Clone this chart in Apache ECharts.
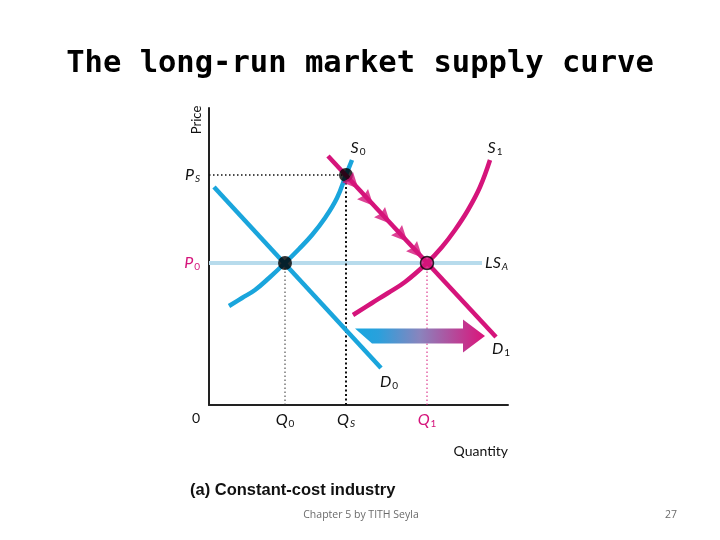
<!DOCTYPE html>
<html><head><meta charset="utf-8">
<script src="https://cdn.jsdelivr.net/npm/echarts@6/dist/echarts.min.js"></script>
<style>html,body{margin:0;padding:0;background:#fff}#c{width:720px;height:540px}</style>
</head><body><div id="c"></div>
<script>
// ---- data (quantity / price units) ----
const xTickValues = [76, 137, 218];
const xTickLabels = ['Q0', 'QS', 'Q1'];
const yTickValues = [142, 230];
const yTickLabels = ['P0', 'PS'];
const d0 = [[5, 218], [172, 37]];
const d1 = [[119, 249], [287, 68]];
const s0 = [[20, 99], [33, 107], [46, 115], [60, 127], [76, 142], [90, 156], [103, 170], [116, 187], [128, 207], [137, 230], [143, 245]];
const s1 = [[144, 90], [163, 102], [179, 112], [196, 123], [218, 142], [233, 158], [246, 175], [259, 195], [271, 218], [281, 245]];
const lsa = [[0, 142], [273, 142]];
const equilibriaBlack = [[76, 142], [137, 230]];
const equilibriumNew = [[218, 142]];
const adjustPath = [[144, 222], [159, 205], [176, 187], [193, 169], [208, 153]];
const shiftArrow = [[146, 69], [276, 69]];

const BLUE = '#1aa5dc', PINK = '#d5147b', LIGHT = '#b7dbec';
const FONT = 'Lato';
const rich = {
  i: {fontFamily: FONT, fontStyle: 'italic', fontSize: 16, color: '#111', lineHeight: 18},
  s: {fontFamily: FONT, fontSize: 10, color: '#111', verticalAlign: 'bottom', lineHeight: 10, padding:[0,0,0,1]},
  si: {fontFamily: FONT, fontStyle: 'italic', fontSize: 10, color: '#111', verticalAlign: 'bottom', lineHeight: 10, padding:[0,0,0,1]},
  ip: {fontFamily: FONT, fontStyle: 'italic', fontSize: 16, color: PINK, lineHeight: 18},
  sp: {fontFamily: FONT, fontSize: 10, color: PINK, verticalAlign: 'bottom', lineHeight: 10, padding:[0,0,0,1]}
};
function fmt(lbl, pink) {
  const head = lbl.slice(0, -1), sub = lbl.slice(-1);
  const subStyle = /[0-9]/.test(sub) ? (pink ? 'sp' : 's') : 'si';
  return '{' + (pink ? 'ip' : 'i') + '|' + head + '}{' + subStyle + '|' + sub + '}';
}
function endItem(arr, lbl, labelOpt) {
  return arr.map((p, k) => k === arr.length - 1
    ? {value: p, label: Object.assign({show: true, formatter: fmt(lbl, false), rich: rich}, labelOpt)}
    : {value: p});
}
function lineSeries(data, color, width, z, extra) {
  return Object.assign({
    type: 'line', data: data, z: z, silent: true,
    showSymbol: true, symbol: 'circle', symbolSize: 0.1,
    itemStyle: {color: color},
    lineStyle: {color: color, width: width, cap: 'butt'}
  }, extra || {});
}

const chart = echarts.init(document.getElementById('c'));
chart.setOption({
  animation: false,
  title: {
    text: 'The long-run market supply curve', left: 'center', top: 44,
    textStyle: {fontFamily: 'DejaVu Sans Mono', fontWeight: 'bold', fontSize: 30.5, color: '#000'}
  },
  grid: {left: 209, top: 108, width: 299, height: 297},
  xAxis: {
    type: 'value', min: 0, max: 299,
    axisLine: {show: true, onZero: false, lineStyle: {color: '#222', width: 2}},
    axisTick: {show: false}, splitLine: {show: false},
    axisLabel: {
      customValues: xTickValues, margin: 6,
      formatter: v => fmt(xTickLabels[xTickValues.indexOf(v)], xTickLabels[xTickValues.indexOf(v)] === 'Q1'),
      rich: rich
    }
  },
  yAxis: {
    type: 'value', min: 0, max: 297,
    axisLine: {show: true, onZero: false, lineStyle: {color: '#222', width: 2}},
    axisTick: {show: false}, splitLine: {show: false},
    axisLabel: {
      customValues: yTickValues, margin: 9,
      formatter: v => fmt(yTickLabels[yTickValues.indexOf(v)], yTickLabels[yTickValues.indexOf(v)] === 'P0'),
      rich: rich
    }
  },
  graphic: [
    {type: 'text', x: 197, y: 120, rotation: Math.PI / 2,
     style: {text: 'Price', fontFamily: FONT, fontSize: 13, fill: '#111', align: 'center', verticalAlign: 'middle'}},
    {type: 'text', x: 196, y: 418,
     style: {text: '0', fontFamily: FONT, fontSize: 14, fill: '#111', align: 'center', verticalAlign: 'middle'}},
    {type: 'text', x: 508, y: 451,
     style: {text: 'Quantity', fontFamily: FONT, fontSize: 14, fill: '#111', align: 'right', verticalAlign: 'middle'}},
    {type: 'text', x: 190, y: 490,
     style: {text: '(a) Constant-cost industry', fontFamily: 'Liberation Sans', fontWeight: 'bold', fontSize: 16.5, fill: '#111', align: 'left', verticalAlign: 'middle'}},
    {type: 'text', x: 361, y: 515,
     style: {text: 'Chapter 5 by TITH Seyla', fontFamily: 'Open Sans', fontSize: 10.5, fill: '#6b6b6b', align: 'center', verticalAlign: 'middle'}},
    {type: 'text', x: 677, y: 515,
     style: {text: '27', fontFamily: 'Open Sans', fontSize: 10.5, fill: '#6b6b6b', align: 'right', verticalAlign: 'middle'}}
  ],
  series: [
    lineSeries(endItem(lsa, 'LSA', {position: 'right', distance: 3}), LIGHT, 4, 1),
    // guide lines
    lineSeries([[0, yTickValues[1]], [xTickValues[1], yTickValues[1]]], '#111', 1.5, 2, {lineStyle: {color: '#111', width: 1.5, type: [1.5, 2.5]}}),
    lineSeries([[xTickValues[1], 0], [xTickValues[1], yTickValues[1]]], '#111', 2, 2, {lineStyle: {color: '#111', width: 2, type: [2, 2.5]}}),
    lineSeries([[xTickValues[0], 0], [xTickValues[0], yTickValues[0]]], '#333', 1, 2, {lineStyle: {color: '#333', width: 1, type: [1.5, 2.5]}}),
    lineSeries([[xTickValues[2], 0], [xTickValues[2], yTickValues[0]]], PINK, 1, 2, {lineStyle: {color: PINK, width: 1, type: [1.5, 2.5]}}),
    lineSeries(endItem(d0, 'D0', {position: 'bottom', offset: [8, 0]}), BLUE, 4.5, 3),
    lineSeries(endItem(s0, 'S0', {position: 'top', offset: [6, 2]}), BLUE, 4.5, 3, {smooth: 0.4}),
    lineSeries(endItem(d1, 'D1', {position: 'bottom', offset: [5, -2]}), PINK, 4.5, 4),
    lineSeries(endItem(s1, 'S1', {position: 'top', offset: [5, 2]}), PINK, 4.5, 4, {smooth: 0.4}),
    {
      type: 'custom', z: 5, silent: true, data: [0],
      renderItem: function (params, api) {
        const a = api.coord(shiftArrow[0]), b = api.coord(shiftArrow[1]);
        const sh = 7.5, hh = 16.5, hl = 22, cut = 17;
        const pts = [
          [a[0], a[1] - sh], [b[0] - hl, a[1] - sh], [b[0] - hl, b[1] - hh], [b[0], b[1]],
          [b[0] - hl, b[1] + hh], [b[0] - hl, a[1] + sh], [a[0] + cut, a[1] + sh]
        ];
        return {
          type: 'polygon', shape: {points: pts},
          style: {fill: new echarts.graphic.LinearGradient(a[0], 0, b[0], 0, [
            {offset: 0, color: '#16a7e0'}, {offset: 0.18, color: '#2aa0dc'},
            {offset: 0.5, color: '#8a84bd'}, {offset: 1, color: '#dc137a'}], true)}
        };
      }
    },
    {
      type: 'scatter', data: equilibriaBlack, z: 6, silent: true, symbolSize: 14,
      itemStyle: {color: '#000'}
    },
    {
      type: 'scatter', data: equilibriumNew, z: 6, silent: true, symbolSize: 13,
      itemStyle: {color: PINK, borderColor: '#000', borderWidth: 1.5}
    },
    {
      type: 'scatter', data: adjustPath, z: 7, silent: true,
      symbol: 'path://M0,0 L16,8 L0,16 L2,8 Z', symbolSize: [16, 15], symbolRotate: -47,
      itemStyle: {color: PINK}
    }
  ]
});
</script></body></html>
